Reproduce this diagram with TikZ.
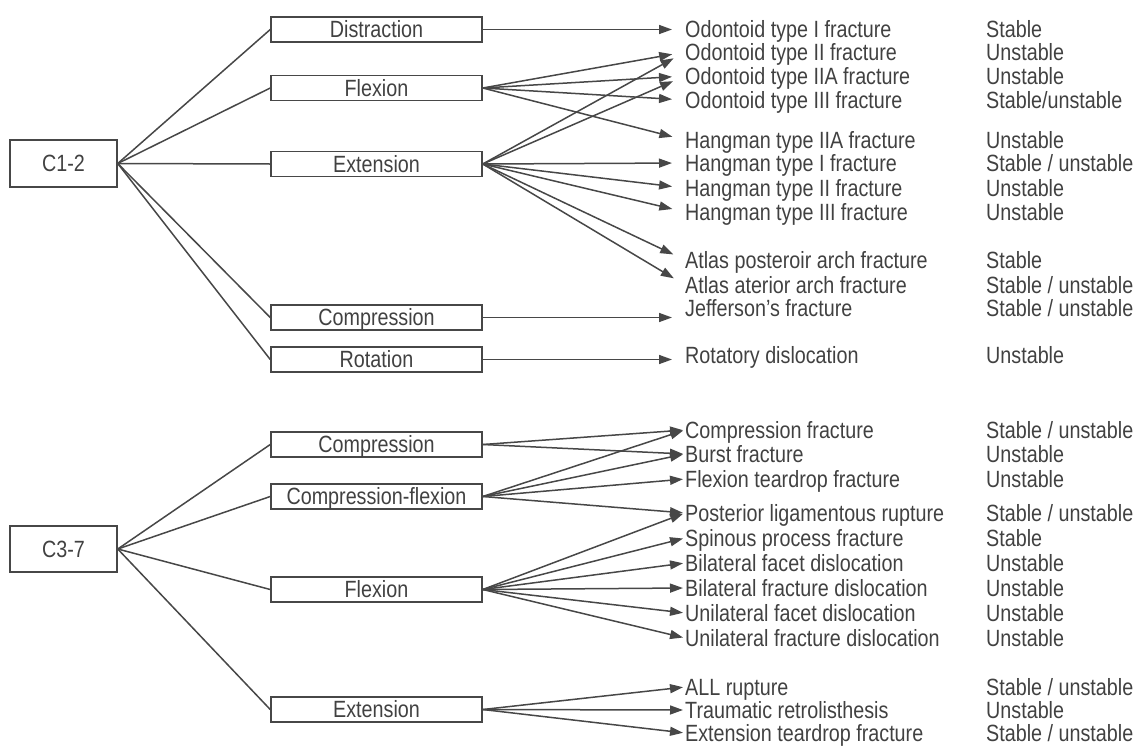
\documentclass[tikz,border=0pt]{standalone}
\usepackage{fontspec}
\setmainfont{Liberation Sans}[FakeStretch=0.84]
\usetikzlibrary{arrows.meta}
\definecolor{ink}{HTML}{474747}
\definecolor{txt}{HTML}{414141}
\begin{document}
\begin{tikzpicture}[x=1pt,y=-1pt,
  every node/.style={font=\fontsize{23.5}{26}\selectfont, text=txt, inner sep=0pt, text height=16.8pt, text depth=0pt},
  box/.style={draw=ink, line width=1.5pt, minimum width=211pt, minimum height=25pt},
  root/.style={draw=ink, line width=1.5pt, minimum width=107pt, minimum height=47pt},
  lbl/.style={anchor=west},
  link/.style={draw=ink, line width=1.5pt},
  arr/.style={link, -{Triangle[length=13pt,width=9pt]}, shorten >=13pt},
  arrb/.style={link, -{Triangle[length=13pt,width=9pt]}, shorten >=2pt},
]
\useasboundingbox (0,0) rectangle (1146,747);

% ---------- C1-2 ----------
\node[root] (c12) at (63.5,163.5) {C1-2};
\node[box] (dis) at (376.5,29.5) {Distraction};
\node[box] (flx) at (376.5,88) {Flexion};
\node[box] (ext) at (376.5,164) {Extension};
\node[box] (cmp) at (376.5,317.5) {Compression};
\node[box] (rot) at (376.5,359.5) {Rotation};

\node[lbl] (o1)  at (685,29)  {Odontoid type I fracture};
\node[lbl] (o2)  at (685,52)  {Odontoid type II fracture};
\node[lbl] (o2a) at (685,76)  {Odontoid type IIA fracture};
\node[lbl] (o3)  at (685,100) {Odontoid type III fracture};
\node[lbl] (h2a) at (685,140) {Hangman type IIA fracture};
\node[lbl] (h1)  at (685,163) {Hangman type I fracture};
\node[lbl] (h2)  at (685,188) {Hangman type II fracture};
\node[lbl] (h3)  at (685,212) {Hangman type III fracture};
\node[lbl] (ap)  at (685,260) {Atlas posteroir arch fracture};
\node[lbl] (aa)  at (685,285) {Atlas aterior arch fracture};
\node[lbl] (jf)  at (685,308) {Jefferson's fracture};
\node[lbl] (rd)  at (685,355) {Rotatory dislocation};

\node[lbl] at (986,29)  {Stable};
\node[lbl] at (986,52)  {Unstable};
\node[lbl] at (986,76)  {Unstable};
\node[lbl] at (986,100) {Stable/unstable};
\node[lbl] at (986,140) {Unstable};
\node[lbl] at (986,163) {Stable / unstable};
\node[lbl] at (986,188) {Unstable};
\node[lbl] at (986,212) {Unstable};
\node[lbl] at (986,260) {Stable};
\node[lbl] at (986,285) {Stable / unstable};
\node[lbl] at (986,308) {Stable / unstable};
\node[lbl] at (986,355) {Unstable};

\foreach \b in {dis,flx,ext,cmp,rot}
  \draw[link] (c12.east) -- (\b.west);

\draw[arr] (dis.east) -- (dis.east -| o1.west);
\foreach \t in {o2,o2a,o3,h2a}
  \draw[arr] (flx.east) -- (\t.west);
\foreach \t in {o2,o2a,h1,h2,h3,ap,aa}
  \draw[arr] (ext.east) -- (\t.west);
\draw[arr] (cmp.east) -- (cmp.east -| jf.west);
\draw[arr] (rot.east) -- (rot.east -| rd.west);

% ---------- C3-7 ----------
\node[root, minimum height=46pt] (c37) at (63.5,549) {C3-7};
\node[box] (bcm) at (376.5,444.5) {Compression};
\node[box] (bcf) at (376.5,496.5) {Compression-flexion};
\node[box] (bfl) at (376.5,589.5) {Flexion};
\node[box] (bex) at (376.5,709.5) {Extension};

\node[lbl] (cf)  at (685,430) {Compression fracture};
\node[lbl] (bu)  at (685,454) {Burst fracture};
\node[lbl] (ft)  at (685,479) {Flexion teardrop fracture};
\node[lbl] (pl)  at (685,513) {Posterior ligamentous rupture};
\node[lbl] (sp)  at (685,538) {Spinous process fracture};
\node[lbl] (bfd) at (685,563) {Bilateral facet dislocation};
\node[lbl] (brd) at (685,588) {Bilateral fracture dislocation};
\node[lbl] (ufd) at (685,613) {Unilateral facet dislocation};
\node[lbl] (urd) at (685,638) {Unilateral fracture dislocation};
\node[lbl] (al)  at (685,687) {ALL rupture};
\node[lbl] (tr)  at (685,710) {Traumatic retrolisthesis};
\node[lbl] (et)  at (685,733) {Extension teardrop fracture};

\node[lbl] at (986,430) {Stable / unstable};
\node[lbl] at (986,454) {Unstable};
\node[lbl] at (986,479) {Unstable};
\node[lbl] at (986,513) {Stable / unstable};
\node[lbl] at (986,538) {Stable};
\node[lbl] at (986,563) {Unstable};
\node[lbl] at (986,588) {Unstable};
\node[lbl] at (986,613) {Unstable};
\node[lbl] at (986,638) {Unstable};
\node[lbl] at (986,687) {Stable / unstable};
\node[lbl] at (986,710) {Unstable};
\node[lbl] at (986,733) {Stable / unstable};

\foreach \b in {bcm,bcf,bfl,bex}
  \draw[link] (c37.east) -- (\b.west);

\foreach \t in {cf,bu}
  \draw[arrb] (bcm.east) -- (\t.west);
\foreach \t in {cf,bu,ft,pl}
  \draw[arrb] (bcf.east) -- (\t.west);
\foreach \t in {pl,sp,bfd,brd,ufd,urd}
  \draw[arrb] (bfl.east) -- (\t.west);
\foreach \t in {al,tr,et}
  \draw[arrb] (bex.east) -- (\t.west);
\end{tikzpicture}
\end{document}
